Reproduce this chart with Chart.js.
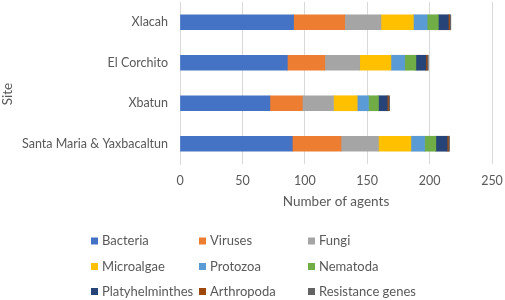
<!DOCTYPE html>
<html>
<head>
<meta charset="utf-8">
<script src="https://cdn.jsdelivr.net/npm/chart.js@4.4.1/dist/chart.umd.min.js"></script>
<style>
  html, body { margin: 0; padding: 0; background: #fff; }
  #wrap { width: 505px; height: 300px; position: relative; }
</style>
</head>
<body>
<div id="wrap"><canvas id="chart" width="505" height="300"></canvas></div>
<script>
// sites, top to bottom
const sites = ['Xlacah', 'El Corchito', 'Xbatun', 'Santa Maria & Yaxbacaltun'];

// number of agents per group, same order as sites
const bacteria = [91, 86, 72, 90];
const viruses = [41, 30, 26, 39];
const fungi = [29, 28, 25, 30];
const microalgae = [26, 25, 19, 26];
const protozoa = [11, 11, 9, 11];
const nematoda = [9, 9, 8, 9];
const platyhelminthes = [8, 8, 7, 9];
const arthropoda = [1, 1, 1, 1];
const resistanceGenes = [1, 1, 1, 1];

const groupNames = ['Bacteria', 'Viruses', 'Fungi', 'Microalgae', 'Protozoa', 'Nematoda',
    'Platyhelminthes', 'Arthropoda', 'Resistance genes'];
const groupValues = [bacteria, viruses, fungi, microalgae, protozoa, nematoda,
    platyhelminthes, arthropoda, resistanceGenes];
const groupColors = ['#4472C4', '#ED7D31', '#A5A5A5', '#FFC000', '#5B9BD5', '#70AD47',
    '#264478', '#9E480E', '#636363'];

const xTicks = [0, 50, 100, 150, 200, 250];

const textColor = '#595959';
const fontFamily = 'Lato, "Open Sans", sans-serif';

const datasets = groupNames.map((name, i) => ({
    label: name,
    data: groupValues[i],
    backgroundColor: groupColors[i],
    borderWidth: 0,
    barThickness: 15
}));

// legend laid out as a 3x3 grid below the plot, plus the "Site" title
const gridLegend = {
    id: 'gridLegend',
    afterDraw(chart) {
        const ctx = chart.ctx;
        const colX = [91, 199, 308];
        const rowY = [241, 266.5, 291.5];
        ctx.save();
        ctx.font = '13px ' + fontFamily;
        ctx.textBaseline = 'middle';
        ctx.textAlign = 'left';
        chart.data.datasets.forEach((ds, i) => {
            const x = colX[i % 3];
            const y = rowY[Math.floor(i / 3)];
            ctx.fillStyle = ds.backgroundColor;
            ctx.fillRect(x, y - 3.5, 7, 7);
            ctx.fillStyle = textColor;
            ctx.fillText(ds.label, x + 11, y);
        });

        // y axis title sits a bit below the plot centre, like the original
        ctx.translate(8, 94);
        ctx.rotate(-Math.PI / 2);
        ctx.textAlign = 'center';
        ctx.font = '13.5px ' + fontFamily;
        ctx.fillText('Site', 0, 0);
        ctx.restore();
    }
};

new Chart(document.getElementById('chart').getContext('2d'), {
    type: 'bar',
    data: {
        labels: sites,
        datasets
    },
    options: {
        indexAxis: 'y',
        responsive: false,
        animation: false,
        layout: {
            padding: {top: 2, left: 0, right: 13, bottom: 90}
        },
        plugins: {
            legend: {display: false},
            tooltip: {enabled: false}
        },
        scales: {
            x: {
                stacked: true,
                min: 0,
                max: 250,
                afterBuildTicks: (scale) => {
                    scale.ticks = xTicks.map(v => ({value: v}));
                },
                afterFit: (scale) => {
                    scale.height = 46;
                    scale.paddingLeft = 0;
                    scale.paddingRight = 0;
                },
                grid: {color: '#D9D9D9', drawTicks: false},
                border: {display: false},
                ticks: {
                    color: textColor,
                    padding: 9,
                    font: {family: fontFamily, size: 12.5}
                },
                title: {
                    display: true,
                    text: 'Number of agents',
                    color: textColor,
                    padding: {top: 4, bottom: 0},
                    font: {family: fontFamily, size: 13.5}
                }
            },
            y: {
                stacked: true,
                afterFit: (scale) => {
                    scale.width = 180;
                    scale.paddingTop = 0;
                    scale.paddingBottom = 0;
                },
                grid: {display: false, drawTicks: false},
                border: {display: true, color: '#D9D9D9'},
                ticks: {
                    color: textColor,
                    padding: 12,
                    font: {family: fontFamily, size: 12.5}
                },
                title: {display: false}
            }
        }
    },
    plugins: [gridLegend]
});
</script>
</body>
</html>
